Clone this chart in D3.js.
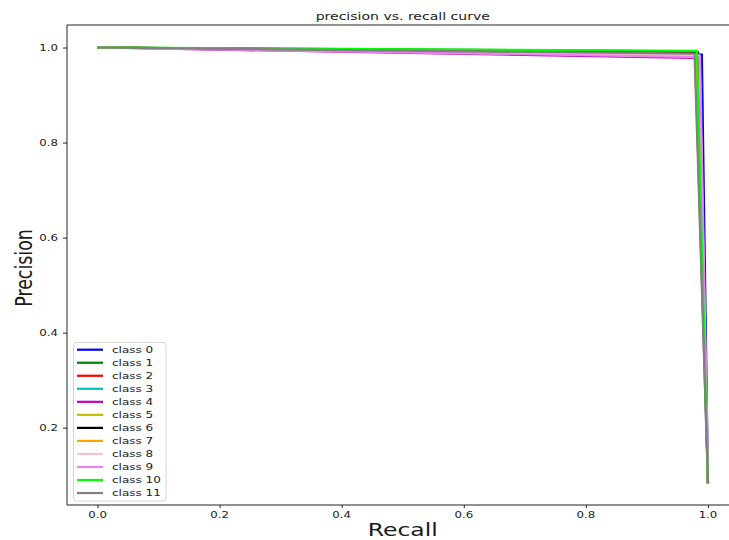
<!DOCTYPE html>
<html>
<head>
<meta charset="utf-8">
<script src="https://cdn.jsdelivr.net/npm/d3@7"></script>
<style>
  html, body { margin: 0; padding: 0; background: #fff; }
  svg { display: block; font-family: "DejaVu Sans", sans-serif; }
</style>
</head>
<body>
<svg id="chart" width="729" height="540"></svg>
<script>
// ---- data ----
const classNames = ["class 0","class 1","class 2","class 3","class 4","class 5","class 6","class 7","class 8","class 9","class 10","class 11"];
const classColors = ["#0000ff","#008000","#ff0000","#00bfbf","#bf00bf","#bfbf00","#000000","#ffa500","#ffc0cb","#ee82ee","#00ff00","#808080"];
// each class: three points (recall, precision)
const recallValues = [
  [0, 0.990, 1], [0, 0.982, 1], [0, 0.984, 1], [0, 0.983, 1],
  [0, 0.979, 1], [0, 0.981, 1], [0, 0.983, 1], [0, 0.982, 1],
  [0, 0.986, 1], [0, 0.987, 1], [0, 0.982, 1], [0, 0.978, 1]
];
const precisionValues = [
  [1, 0.985, 0.0833], [1, 0.992, 0.0833], [1, 0.989, 0.0833], [1, 0.988, 0.0833],
  [1, 0.978, 0.0833], [1, 0.987, 0.0833], [1, 0.990, 0.0833], [1, 0.986, 0.0833],
  [1, 0.983, 0.0833], [1, 0.980, 0.0833], [1, 0.993, 0.0833], [1, 0.987, 0.0833]
];
const xTicks = [0.0, 0.2, 0.4, 0.6, 0.8, 1.0];
const yTicks = [0.2, 0.4, 0.6, 0.8, 1.0];
const titleText = "precision vs. recall curve";
const xLabelText = "Recall";
const yLabelText = "Precision";

// ---- layout ----
const SX = 1.35; // horizontal stretch of text
const svg = d3.select("#chart");
const L = 67, R = 738.5, T = 25, B = 505;
const x = d3.scaleLinear().domain([-0.05, 1.05]).range([L, R]);
const y = d3.scaleLinear().domain([0.0373, 1.0474]).range([B, T]);

svg.append("defs").append("clipPath").attr("id", "clip")
  .append("rect").attr("x", L).attr("y", T).attr("width", R - L).attr("height", B - T);

function stretchedText(g, px, py, txt, size, anchor, rotate) {
  const t = g.append("g").attr("transform", `translate(${px},${py}) scale(${SX},1)` + (rotate ? ` rotate(${rotate})` : ""))
    .append("text").attr("x", 0).attr("y", 0)
    .attr("font-size", size).attr("text-anchor", anchor).attr("fill", "#1a1a1a").text(txt);
  return t;
}

// lines
const line = d3.line().x(d => x(d[0])).y(d => y(d[1]));
const plot = svg.append("g").attr("clip-path", "url(#clip)");
classNames.forEach((name, i) => {
  const pts = recallValues[i].map((r, j) => [r, precisionValues[i][j]]);
  plot.append("path").datum(pts)
    .attr("d", line).attr("fill", "none")
    .attr("stroke", classColors[i]).attr("stroke-width", 2.2)
    .attr("stroke-linejoin", "miter");
});

// axes
const xAxis = d3.axisBottom(x).tickValues(xTicks).tickSize(3).tickPadding(3).tickFormat(d3.format(".1f"));
const gx = svg.append("g").attr("transform", `translate(0,${B})`).call(xAxis);
gx.select(".domain").remove();
gx.selectAll(".tick line").attr("stroke", "#222");
gx.selectAll(".tick text").remove();
xTicks.forEach(v => stretchedText(svg, x(v), 518, d3.format(".1f")(v), 8.7, "middle"));

const yAxis = d3.axisLeft(y).tickValues(yTicks).tickSize(4).tickFormat(d3.format(".1f"));
const gy = svg.append("g").attr("transform", `translate(${L},0)`).call(yAxis);
gy.select(".domain").remove();
gy.selectAll(".tick line").attr("stroke", "#222");
gy.selectAll(".tick text").remove();
yTicks.forEach(v => stretchedText(svg, 58, y(v) + 3.1, d3.format(".1f")(v), 8.7, "end"));

// spines
svg.append("line").attr("x1", L).attr("x2", L).attr("y1", T).attr("y2", B).attr("stroke", "#222").attr("stroke-width", 1);
svg.append("line").attr("x1", L).attr("x2", R).attr("y1", B).attr("y2", B).attr("stroke", "#222").attr("stroke-width", 1);
svg.append("line").attr("x1", L).attr("x2", R).attr("y1", T).attr("y2", T).attr("stroke", "#222").attr("stroke-width", 1);

// title & labels
stretchedText(svg, (L + R) / 2, 20, titleText, 10.4, "middle");
stretchedText(svg, (L + R) / 2, 536, xLabelText, 17.4, "middle");
stretchedText(svg, 31.5, 268, yLabelText, 17.4, "middle", -90);

// legend
const lg = svg.append("g");
lg.append("rect").attr("x", 73.5).attr("y", 342.5).attr("width", 92.5).attr("height", 158.5)
  .attr("rx", 3).attr("fill", "#fff").attr("fill-opacity", 0.8).attr("stroke", "#d5d5d5").attr("stroke-width", 1);
classNames.forEach((name, i) => {
  const cy = 349.7 + i * 13.03;
  lg.append("line").attr("x1", 77).attr("x2", 103).attr("y1", cy).attr("y2", cy)
    .attr("stroke", classColors[i]).attr("stroke-width", 2.2);
  stretchedText(lg, 112, cy + 3.2, name, 8.9, "start");
});
</script>
</body>
</html>
